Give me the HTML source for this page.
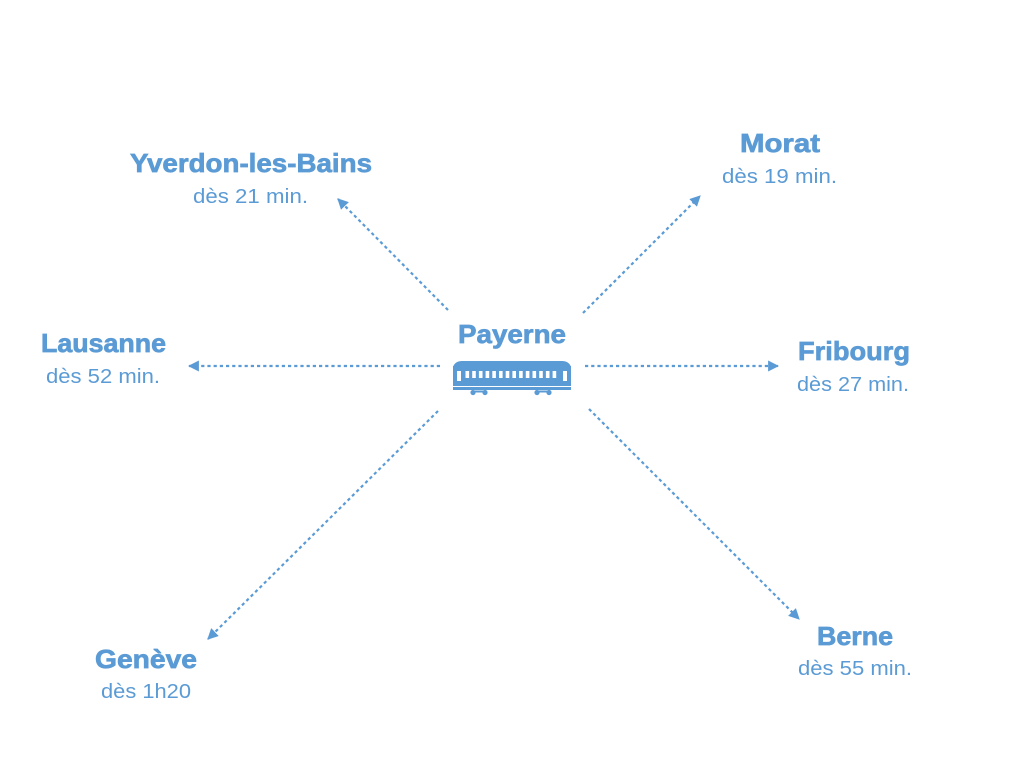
<!DOCTYPE html>
<html><head><meta charset="utf-8"><style>
html,body{margin:0;padding:0;background:#fff;}
svg{display:block;}
.b{font-family:"Liberation Sans",sans-serif;font-weight:bold;font-size:26px;fill:#5b9bd5;stroke:#5b9bd5;stroke-width:0.7;}
.r{font-family:"Liberation Sans",sans-serif;font-size:20px;fill:#5b9bd5;}
.l{stroke:#5b9bd5;stroke-width:2.2;stroke-dasharray:3.2 3;fill:none;}
</style></head><body>
<svg width="1024" height="768" viewBox="0 0 1024 768" xmlns="http://www.w3.org/2000/svg">
<defs>
<marker id="a" viewBox="0 0 10 10" refX="9" refY="5" markerWidth="11" markerHeight="11" markerUnits="userSpaceOnUse" orient="auto">
<path d="M0,0 L10,5 L0,10 z" fill="#5b9bd5"/>
</marker>
</defs>
<!-- connectors -->
<line class="l" x1="448" y1="310" x2="338" y2="199" marker-end="url(#a)"/>
<line class="l" x1="583" y1="313" x2="700" y2="196" marker-end="url(#a)"/>
<line class="l" x1="585" y1="366" x2="778" y2="366" marker-end="url(#a)"/>
<line class="l" x1="440" y1="366" x2="189" y2="366" marker-end="url(#a)"/>
<line class="l" x1="438" y1="411" x2="208" y2="639" marker-end="url(#a)"/>
<line class="l" x1="589" y1="409" x2="799" y2="619" marker-end="url(#a)"/>

<!-- labels -->
<text class="b" x="130" y="172" textLength="242" lengthAdjust="spacingAndGlyphs">Yverdon-les-Bains</text>
<text class="r" x="193" y="203" textLength="115" lengthAdjust="spacingAndGlyphs">dès 21 min.</text>

<text class="b" x="740" y="152" textLength="80" lengthAdjust="spacingAndGlyphs">Morat</text>
<text class="r" x="722" y="183" textLength="115" lengthAdjust="spacingAndGlyphs">dès 19 min.</text>

<text class="b" x="798" y="360" textLength="112" lengthAdjust="spacingAndGlyphs">Fribourg</text>
<text class="r" x="797" y="391" textLength="112" lengthAdjust="spacingAndGlyphs">dès 27 min.</text>

<text class="b" x="41" y="352" textLength="125" lengthAdjust="spacingAndGlyphs">Lausanne</text>
<text class="r" x="46" y="383" textLength="114" lengthAdjust="spacingAndGlyphs">dès 52 min.</text>

<text class="b" x="458" y="343" textLength="108" lengthAdjust="spacingAndGlyphs">Payerne</text>

<text class="b" x="95" y="668" textLength="102" lengthAdjust="spacingAndGlyphs">Genève</text>
<text class="r" x="101" y="698" textLength="90" lengthAdjust="spacingAndGlyphs">dès 1h20</text>

<text class="b" x="817" y="645" textLength="76" lengthAdjust="spacingAndGlyphs">Berne</text>
<text class="r" x="798" y="675" textLength="114" lengthAdjust="spacingAndGlyphs">dès 55 min.</text>

<!-- train -->
<g fill="#5b9bd5">
<path d="M453,367 Q455,361 462,361 L562,361 Q569,361 571,367 Z"/>
<rect x="453" y="366" width="118" height="20"/>
<rect x="453" y="387" width="118" height="3"/>
<g fill="#fff">
<rect x="457" y="371" width="4" height="10"/>
<rect x="563" y="371" width="4" height="10"/>
<rect x="465.5" y="371" width="3.6" height="7"/>
<rect x="472.2" y="371" width="3.6" height="7"/>
<rect x="478.9" y="371" width="3.6" height="7"/>
<rect x="485.6" y="371" width="3.6" height="7"/>
<rect x="492.3" y="371" width="3.6" height="7"/>
<rect x="499.0" y="371" width="3.6" height="7"/>
<rect x="505.7" y="371" width="3.6" height="7"/>
<rect x="512.4" y="371" width="3.6" height="7"/>
<rect x="519.1" y="371" width="3.6" height="7"/>
<rect x="525.8" y="371" width="3.6" height="7"/>
<rect x="532.5" y="371" width="3.6" height="7"/>
<rect x="539.2" y="371" width="3.6" height="7"/>
<rect x="545.9" y="371" width="3.6" height="7"/>
<rect x="552.6" y="371" width="3.6" height="7"/>
</g>
<circle cx="473" cy="392.5" r="2.6"/>
<circle cx="485" cy="392.5" r="2.6"/>
<rect x="473" y="390.5" width="12" height="2"/>
<circle cx="537" cy="392.5" r="2.6"/>
<circle cx="549" cy="392.5" r="2.6"/>
<rect x="537" y="390.5" width="12" height="2"/>
</g>
</svg>
</body></html>
